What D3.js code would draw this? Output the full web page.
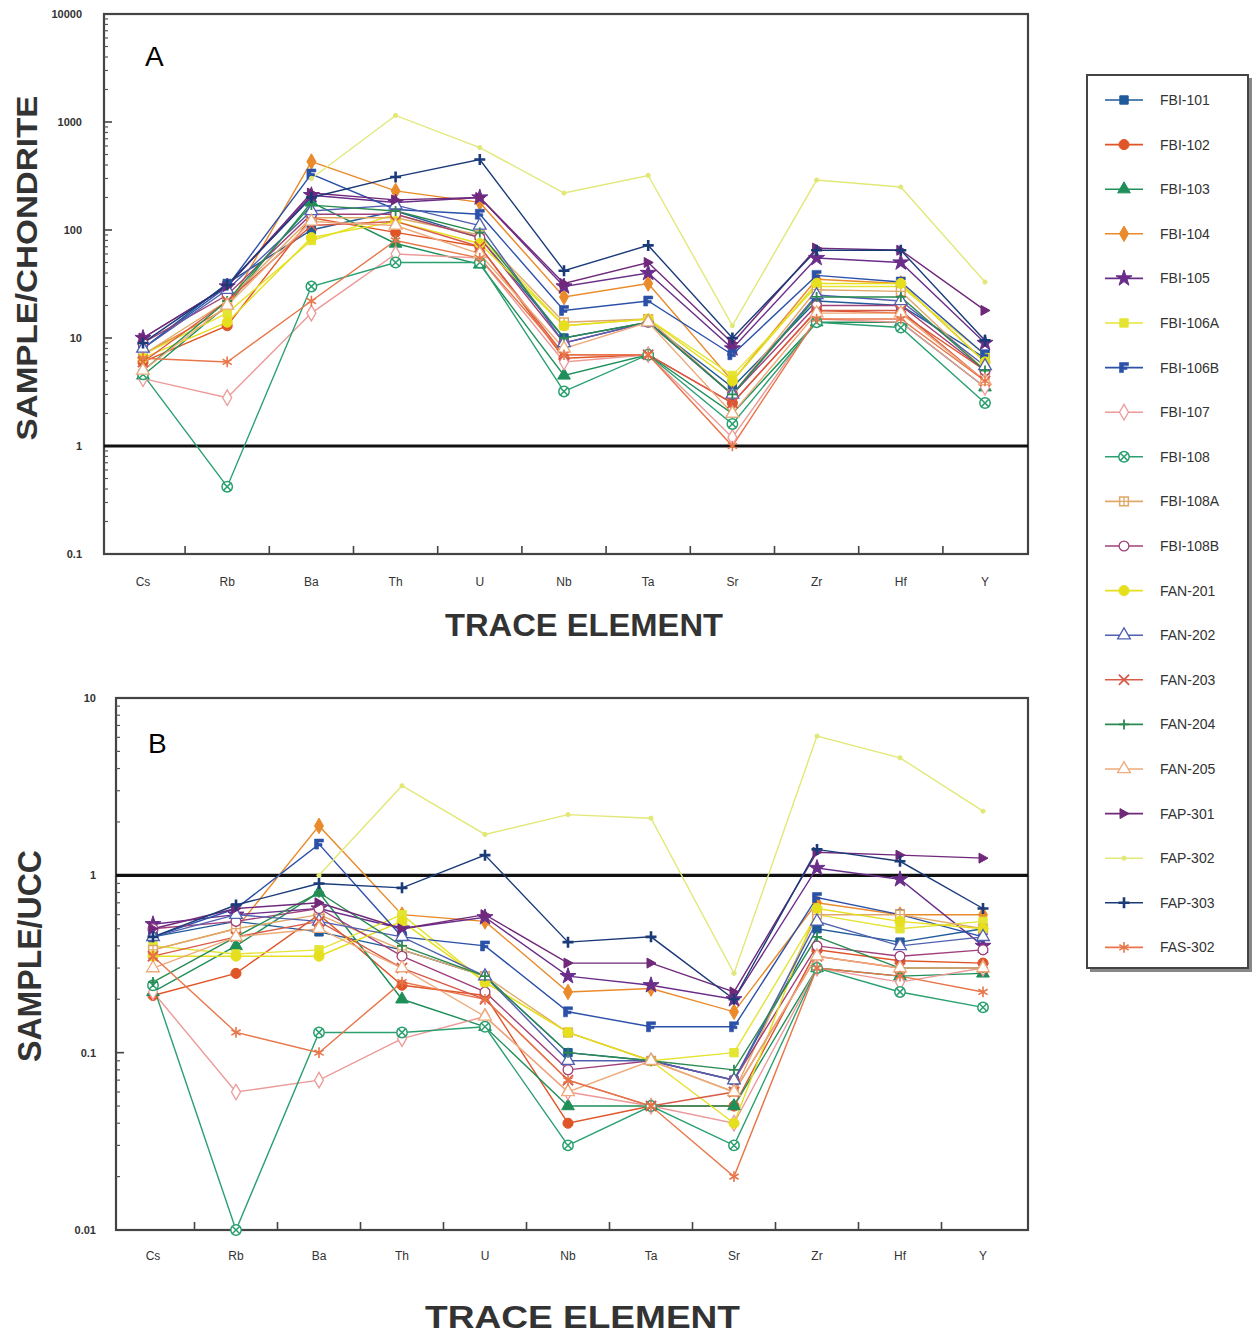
<!DOCTYPE html>
<html>
<head>
<meta charset="utf-8">
<script src="https://cdn.jsdelivr.net/npm/d3@7"></script>
<style>
  body { margin:0; background:#fff; }
  svg text { font-family:"Liberation Sans", Arial, sans-serif; }
  .tick-lab { font-family:"Liberation Sans Narrow","Liberation Sans",sans-serif; font-size:12px; fill:#333; }
  .leg-lab { font-family:"Liberation Sans Narrow","Liberation Sans",sans-serif; font-size:14px; fill:#333; }
  .title { font-weight:bold; fill:#333; }
</style>
</head>
<body>
<svg id="chart"></svg>
<script>
const W = 1253, H = 1337;

const ELEMENTS = ['Cs','Rb','Ba','Th','U','Nb','Ta','Sr','Zr','Hf','Y'];

const SAMPLES = ['FBI-101','FBI-102','FBI-103','FBI-104','FBI-105','FBI-106A','FBI-106B','FBI-107',
  'FBI-108','FBI-108A','FBI-108B','FAN-201','FAN-202','FAN-203','FAN-204','FAN-205',
  'FAP-301','FAP-302','FAP-303','FAS-302'];

const COLORS = ['#1f5a99','#e05528','#1f8f5a','#ea8a2a','#6a2e8a','#e4e432','#2a50a8','#ec9a98',
  '#2aa070','#e0a868','#a0407a','#e6df1e','#5060b0','#d85a48','#2a8a50','#eeaa7a',
  '#70287a','#e2e878','#1a3a78','#e8764a'];

const MARKERS = ['square','circle','triangle','diamond','star','square','flag','diamondOpen',
  'circleX','squarePlus','circleOpen','circle','triangleOpen','times','plus','triangleOpen',
  'triRight','dot','plusBold','asterisk'];

// sample / chondrite  (Cs .. Y)
const CHONDRITE = [
  [8, 32, 100, 150, 85, 10, 14, 3.5, 22, 20, 6.5],
  [6, 13, 130, 95, 70, 6.5, 7, 2.5, 18, 17, 5],
  [4.5, 20, 180, 75, 48, 4.5, 7, 2, 14, 14, 3.5],
  [7, 19, 430, 230, 180, 24, 32, 4, 35, 32, 6],
  [10, 30, 210, 180, 200, 30, 40, 8, 55, 50, 9],
  [7, 17, 80, 140, 85, 13, 15, 4.5, 30, 30, 7],
  [8, 30, 330, 155, 140, 18, 22, 7, 38, 33, 7],
  [4.2, 2.8, 17, 60, 55, 6, 7, 1.2, 15, 14, 3.5],
  [4.6, 0.42, 30, 50, 50, 3.2, 7, 1.6, 14, 12.5, 2.5],
  [7, 22, 130, 130, 90, 14, 15, 3, 28, 27, 5],
  [9, 25, 140, 140, 85, 9, 14, 3, 20, 20, 5],
  [6.5, 14, 85, 120, 75, 13, 15, 4, 32, 32, 6],
  [8, 28, 150, 170, 110, 9, 14, 3, 25, 22, 5.5],
  [6, 22, 110, 120, 70, 7, 7, 2.5, 18, 18, 4],
  [5, 22, 170, 150, 95, 10, 14, 3, 24, 24, 5],
  [5, 20, 120, 110, 60, 8, 14, 2, 17, 17, 4],
  [10, 30, 220, 190, 200, 32, 50, 9, 68, 65, 18],
  [null, null, 300, 1150, 580, 220, 320, 13, 290, 250, 33],
  [9, 31, 200, 310, 450, 42, 72, 10, 65, 65, 9.5],
  [6.5, 6, 22, 80, 55, 7, 7, 1.0, 15, 15, 4]
];

// sample / UCC  (Cs .. Y)
const UCC = [
  [0.45, 0.55, 0.48, 0.38, 0.27, 0.1, 0.09, 0.07, 0.5, 0.42, 0.5],
  [0.21, 0.28, 0.6, 0.24, 0.21, 0.04, 0.05, 0.05, 0.38, 0.33, 0.32],
  [0.22, 0.4, 0.8, 0.2, 0.14, 0.05, 0.05, 0.05, 0.3, 0.27, 0.28],
  [0.38, 0.5, 1.9, 0.6, 0.55, 0.22, 0.23, 0.17, 0.7, 0.6, 0.6],
  [0.53, 0.6, 0.65, 0.5, 0.58, 0.27, 0.24, 0.2, 1.1, 0.95, 0.4],
  [0.4, 0.36, 0.38, 0.6, 0.25, 0.13, 0.09, 0.1, 0.6, 0.5, 0.55],
  [0.45, 0.65, 1.5, 0.45, 0.4, 0.17, 0.14, 0.14, 0.75, 0.6, 0.45],
  [0.22, 0.06, 0.07, 0.12, 0.16, 0.06, 0.05, 0.04, 0.3, 0.25, 0.3],
  [0.24, 0.01, 0.13, 0.13, 0.14, 0.03, 0.05, 0.03, 0.3, 0.22, 0.18],
  [0.38, 0.5, 0.6, 0.38, 0.27, 0.13, 0.09, 0.06, 0.6, 0.6, 0.5],
  [0.5, 0.55, 0.65, 0.35, 0.22, 0.08, 0.09, 0.07, 0.4, 0.35, 0.38],
  [0.35, 0.35, 0.35, 0.55, 0.25, 0.13, 0.09, 0.04, 0.65, 0.55, 0.5],
  [0.45, 0.6, 0.55, 0.45, 0.27, 0.09, 0.09, 0.07, 0.55, 0.4, 0.45],
  [0.35, 0.45, 0.55, 0.3, 0.2, 0.07, 0.05, 0.06, 0.35, 0.3, 0.3],
  [0.25, 0.45, 0.8, 0.4, 0.27, 0.1, 0.09, 0.08, 0.45, 0.3, 0.3],
  [0.3, 0.45, 0.5, 0.3, 0.16, 0.06, 0.09, 0.06, 0.35, 0.3, 0.3],
  [0.5, 0.65, 0.7, 0.5, 0.6, 0.32, 0.32, 0.22, 1.35, 1.3, 1.25],
  [null, null, 1.0, 3.2, 1.7, 2.2, 2.1, 0.28, 6.1, 4.6, 2.3],
  [0.45, 0.68, 0.9, 0.85, 1.3, 0.42, 0.45, 0.2, 1.4, 1.2, 0.65],
  [0.35, 0.13, 0.1, 0.25, 0.2, 0.07, 0.05, 0.02, 0.3, 0.27, 0.22]
];

const TICKS_A = [0.1, 1, 10, 100, 1000, 10000];
const TICKS_B = [0.01, 0.1, 1, 10];

const svg = d3.select('#chart').attr('width', W).attr('height', H);

// marker drawing
function drawMarker(g, type, color, x, y) {
  const m = g.append('g').attr('transform', `translate(${x},${y})`);
  const sym = (t, size, fill, stroke, sw) => m.append('path')
    .attr('d', d3.symbol().type(t).size(size)())
    .attr('fill', fill).attr('stroke', stroke).attr('stroke-width', sw || 1);
  switch (type) {
    case 'square': sym(d3.symbolSquare, 70, color, color); break;
    case 'circle': sym(d3.symbolCircle, 80, color, color); break;
    case 'triangle': sym(d3.symbolTriangle, 70, color, color); break;
    case 'diamond': sym(d3.symbolDiamond, 70, color, color); break;
    case 'star': sym(d3.symbolStar, 80, color, color); break;
    case 'diamondOpen': sym(d3.symbolDiamond, 70, '#fff', color, 1.3); break;
    case 'circleOpen': sym(d3.symbolCircle, 75, '#fff', color, 1.3); break;
    case 'triangleOpen': sym(d3.symbolTriangle, 70, '#fff', color, 1.3); break;
    case 'circleX':
      sym(d3.symbolCircle, 85, '#fff', color, 1.5);
      sym(d3.symbolTimes, 45, 'none', color, 1.5); break;
    case 'squarePlus':
      sym(d3.symbolSquare, 75, '#fff', color, 1.5);
      m.append('path').attr('d', 'M-4.3,0H4.3M0,-4.3V4.3').attr('stroke', color).attr('stroke-width', 1.3); break;
    case 'times': sym(d3.symbolTimes, 70, 'none', color, 1.8); break;
    case 'plus': m.append('path').attr('d', 'M-5,0H5M0,-5V5').attr('stroke', color).attr('stroke-width', 1.8); break;
    case 'plusBold': m.append('path').attr('d', 'M-5.5,0H5.5M0,-5.5V5.5').attr('stroke', color).attr('stroke-width', 2.6); break;
    case 'asterisk': sym(d3.symbolAsterisk, 80, 'none', color, 1.6); break;
    case 'dot': sym(d3.symbolCircle, 14, color, color); break;
    case 'triRight':
      m.append('path').attr('d', 'M-4,-5L5,0L-4,5Z').attr('fill', color).attr('stroke', color); break;
    case 'flag':
      m.append('path').attr('d', 'M-4.5,-5H4.5V-2H-0.5V-0.5H3V2H-0.5V5H-4.5Z')
        .attr('fill', color).attr('stroke', color).attr('stroke-width', 0.6); break;
  }
}

function panel(cfg) {
  const { left, right, top, bottom, first, last, domain, data, ticks, labelRight, catY } = cfg;
  const x = d3.scalePoint().domain(ELEMENTS).range([first, last]);
  const y = d3.scaleLog().domain(domain).range([bottom, top]);
  const g = svg.append('g');

  // frame
  g.append('rect').attr('x', left).attr('y', top).attr('width', right - left).attr('height', bottom - top)
    .attr('fill', '#fff').attr('stroke', '#444').attr('stroke-width', 2.2);

  // y ticks (inward, log minor)
  const lo = Math.log10(domain[0]), hi = Math.log10(domain[1]);
  for (let e = lo; e <= hi; e++) {
    const base = Math.pow(10, e);
    g.append('line').attr('x1', left).attr('x2', left + 8).attr('y1', y(base)).attr('y2', y(base))
      .attr('stroke', '#444').attr('stroke-width', 1.6);
    if (e < hi) for (let k = 2; k <= 9; k++) {
      g.append('line').attr('x1', left).attr('x2', left + 4).attr('y1', y(base * k)).attr('y2', y(base * k))
        .attr('stroke', '#555').attr('stroke-width', 1.2);
    }
  }
  g.selectAll('.ylab').data(ticks).join('text').attr('class', 'tick-lab')
    .attr('x', labelRight).attr('y', d => y(d) + 4).attr('text-anchor', 'end')
    .style('font-size', '11px').style('font-weight', 'bold').text(d => d);

  // x ticks between categories
  const step = x.step();
  ELEMENTS.slice(1).forEach(el => {
    const xx = x(el) - step / 2;
    g.append('line').attr('x1', xx).attr('x2', xx).attr('y1', bottom).attr('y2', bottom - 8)
      .attr('stroke', '#444').attr('stroke-width', 1.6);
  });
  g.selectAll('.xlab').data(ELEMENTS).join('text').attr('class', 'tick-lab')
    .attr('x', d => x(d)).attr('y', catY).attr('text-anchor', 'middle').text(d => d);

  // reference line at 1
  g.append('line').attr('x1', left).attr('x2', right).attr('y1', y(1)).attr('y2', y(1))
    .attr('stroke', '#111').attr('stroke-width', 3.2);

  // series
  const line = d3.line().defined(d => d.v != null).x(d => x(d.el)).y(d => y(d.v));
  SAMPLES.forEach((s, i) => {
    const pts = ELEMENTS.map((el, j) => ({ el, v: data[i][j] }));
    g.append('path').attr('d', line(pts)).attr('fill', 'none')
      .attr('stroke', COLORS[i]).attr('stroke-width', 1.4);
  });
  SAMPLES.forEach((s, i) => {
    ELEMENTS.forEach((el, j) => {
      const v = data[i][j];
      if (v != null) drawMarker(g, MARKERS[i], COLORS[i], x(el), y(v));
    });
  });
}

panel({ left: 104, right: 1028, top: 14, bottom: 554, first: 143, last: 985,
  domain: [0.1, 10000], data: CHONDRITE, ticks: TICKS_A, labelRight: 82, catY: 586 });
panel({ left: 116, right: 1028, top: 698, bottom: 1230, first: 153, last: 983,
  domain: [0.01, 10], data: UCC, ticks: TICKS_B, labelRight: 96, catY: 1260 });

// panel letters
svg.append('text').attr('x', 145).attr('y', 66).style('font-size', '28px').text('A');
svg.append('text').attr('x', 148).attr('y', 753).style('font-size', '28px').text('B');

// axis titles
svg.append('text').attr('class', 'title').attr('transform', 'translate(37,268) rotate(-90)')
  .attr('text-anchor', 'middle').style('font-size', '30px')
  .attr('textLength', 345).attr('lengthAdjust', 'spacingAndGlyphs').text('SAMPLE/CHONDRITE');
svg.append('text').attr('class', 'title').attr('transform', 'translate(41,956) rotate(-90)')
  .attr('text-anchor', 'middle').style('font-size', '33px')
  .attr('textLength', 212).attr('lengthAdjust', 'spacingAndGlyphs').text('SAMPLE/UCC');
svg.append('text').attr('class', 'title').attr('x', 445).attr('y', 636)
  .style('font-size', '31px').attr('textLength', 278).attr('lengthAdjust', 'spacingAndGlyphs').text('TRACE ELEMENT');
svg.append('text').attr('class', 'title').attr('x', 425).attr('y', 1328)
  .style('font-size', '31px').attr('textLength', 315).attr('lengthAdjust', 'spacingAndGlyphs').text('TRACE ELEMENT');

// legend
const leg = svg.append('g');
leg.append('rect').attr('x', 1090).attr('y', 78).attr('width', 162).attr('height', 894).attr('fill', '#888');
leg.append('rect').attr('x', 1087).attr('y', 75).attr('width', 161).attr('height', 893)
  .attr('fill', '#fff').attr('stroke', '#444').attr('stroke-width', 2);
SAMPLES.forEach((s, i) => {
  const ly = 100 + i * 44.6;
  leg.append('line').attr('x1', 1105).attr('x2', 1143).attr('y1', ly).attr('y2', ly)
    .attr('stroke', COLORS[i]).attr('stroke-width', 1.6);
  drawMarker(leg, MARKERS[i], COLORS[i], 1124, ly);
  leg.append('text').attr('class', 'leg-lab').attr('x', 1160).attr('y', ly + 5).text(s);
});
</script>
</body>
</html>
